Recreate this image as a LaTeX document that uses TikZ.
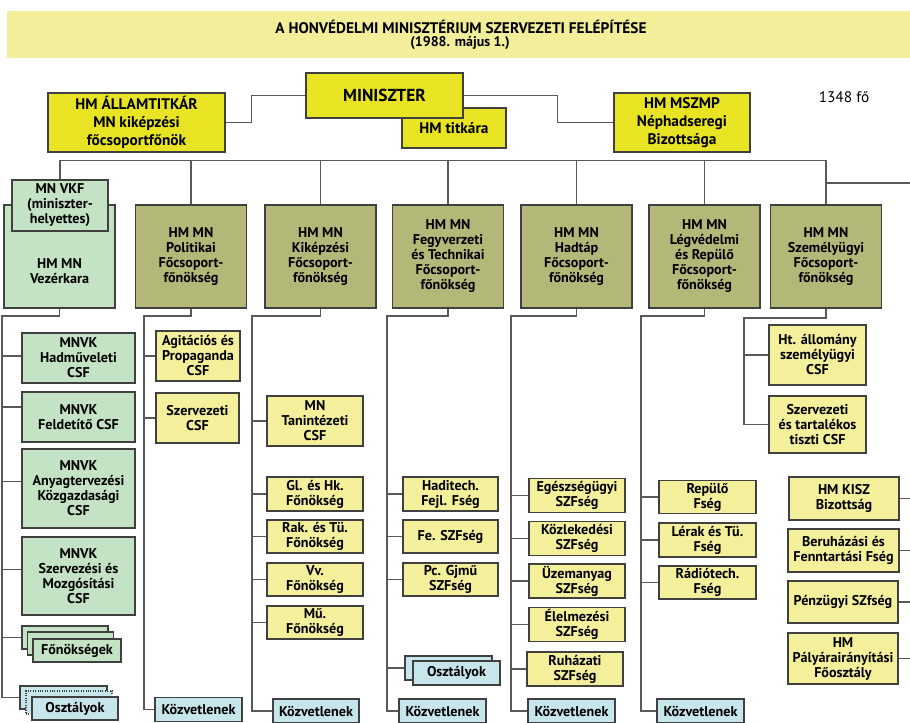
\documentclass[tikz,border=0pt]{standalone}
\usepackage{fontspec}
\setmainfont{PT Sans}
\usetikzlibrary{positioning, calc}
\definecolor{hmband}{RGB}{242,238,154}
\definecolor{hmtop}{RGB}{232,228,36}
\definecolor{hmolive}{RGB}{179,184,120}
\definecolor{hmgreen}{RGB}{196,226,196}
\definecolor{hmpale}{RGB}{243,239,155}
\definecolor{hmblue}{RGB}{198,230,236}

\begin{document}
\begin{tikzpicture}[x=0.75pt, y=-0.75pt,
    bw/.style={minimum width=#1*0.75pt},
    bh/.style={minimum height=#1*0.75pt},
    box/.style={draw=black!75, line width=0.8pt, align=center, inner xsep=1pt, inner ysep=1pt, font=\bfseries\fontsize{10.6}{11.25}\selectfont},
    topbox/.style={box, fill=hmtop, font=\bfseries\fontsize{11.5}{13.5}\selectfont},
    chief/.style={box, fill=hmolive, bw=111, bh=103},
    vkbox/.style={box, fill=hmgreen},
    csf/.style={box, fill=hmpale},
    bluebox/.style={box, fill=hmblue},
    conn/.style={draw=black!65, line width=0.8pt}]
    \useasboundingbox (0,0) rectangle (910,722);

    % title
    \fill[hmband] (7,11) rectangle (910,58);
    \node[font=\bfseries\fontsize{11.5}{12}\selectfont] (title) at (461,27) {A HONVÉDELMI MINISZTÉRIUM SZERVEZETI FELÉPÍTÉSE};
    \node[font=\bfseries\fontsize{10.5}{12}\selectfont] (date) at (460,43) {(1988. május 1.)};

    % top level
    \node[topbox, bw=104, bh=40] (titkara) at (454,128) {HM titkára};
    \node[topbox, bw=157, bh=45, font=\bfseries\fontsize{13}{15}\selectfont] (minister) at (384.5,95.5) {MINISZTER};
    \node[topbox, bw=177, bh=59] (state) at (136.5,122.5) {HM ÁLLAMTITKÁR\\MN kiképzési\\főcsoportfőnök};
    \node[topbox, bw=136, bh=59] (mszmp) at (682,122.5) {HM MSZMP\\Néphadseregi\\Bizottsága};
    \node[font=\fontsize{11.5}{13}\selectfont] (staff) at (844,97) {1348 fő};

    \draw[conn] (state.east) -- ++(26,0) |- (minister.west);
    \draw[conn] (minister.east) -- ++(94,0) |- (mszmp.west);

    % main directorates
    \node[vkbox, bw=111, bh=103, label={[font=\bfseries\fontsize{10.6}{11.25}\selectfont, align=center, yshift=-11.25pt]center:HM MN\\Vezérkara}] (vezer) at (59.5,256.5) {};
    \node[vkbox, bw=96, bh=51] (vkf) at (60,205.5) {MN VKF\\(miniszter-\\helyettes)};
    \node[chief] (polit) at (191,256.5) {HM MN\\Politikai\\Főcsoport-\\főnökség};
    \node[chief] (kikep) at (320.5,256.5) {HM MN\\Kiképzési\\Főcsoport-\\főnökség};
    \node[chief] (fegyv) at (448,256.5) {HM MN\\Fegyverzeti\\és Technikai\\Főcsoport-\\főnökség};
    \node[chief] (hadtap) at (576.5,256.5) {HM MN\\Hadtáp\\Főcsoport-\\főnökség};
    \node[chief] (legv) at (704.5,256.5) {HM MN\\Légvédelmi\\és Repülő\\Főcsoport-\\főnökség};
    \node[chief] (szemely) at (826,256.5) {HM MN\\Személyügyi\\Főcsoport-\\főnökség};

    \coordinate (east1) at (910,183);
    \draw[conn] (vkf.north) -- ++(0,-19) -| (szemely.north);
    \foreach \n in {polit,kikep,fegyv,hadtap,legv}
        \draw[conn] (\n.north) -- ++(0,-44);
    \draw[conn] (szemely.north |- east1) -- (east1);

    % Vezerkar
    \node[vkbox, bw=113, bh=50] (hadm) at (78.5,358) {MNVK\\Hadműveleti\\CSF};
    \node[vkbox, bw=113, bh=50] (feld) at (78.5,417) {MNVK\\Feldetítő CSF};
    \node[vkbox, bw=113, bh=79] (anyag) at (78.5,488.5) {MNVK\\Anyagtervezési\\Közgazdasági\\CSF};
    \node[vkbox, bw=113, bh=78] (szerv) at (78.5,576) {MNVK\\Szervezési és\\Mozgósítási\\CSF};
    \node[vkbox, bw=86, bh=23] (vfon1) at (65,637.5) {};
    \node[vkbox, bw=86, bh=23] (vfon2) at (70.5,643.5) {};
    \node[vkbox, bw=88, bh=23] (vfon3) at (77,650.5) {Főnökségek};
    \node[bluebox, bw=87, bh=23] (vosz1) at (63.5,697.5) {};
    \node[bluebox, bw=86, bh=23, densely dotted] (vosz2) at (69,702.5) {};
    \node[bluebox, bw=86, bh=23] (vosz3) at (75,708.5) {Osztályok};

    \coordinate (vspine) at (2,316);
    \draw[conn] (vezer.south) |- (vspine) |- (vosz1.west);
    \foreach \n/\s in {hadm/1.5pt, feld/7.5pt, anyag/5pt, szerv/5pt, vfon1/0pt}
        \draw[conn] ([yshift=\s]\n.west) -- ([yshift=\s]\n.west -| vspine);

    % Politikai
    \node[csf, bw=84, bh=50] (pagit) at (198,356) {Agitációs és\\Propaganda\\CSF};
    \node[csf, bw=83, bh=50] (pszerv) at (197.5,418) {Szervezeti\\CSF};
    \node[bluebox, bw=87, bh=24] (pkoz) at (198.5,709.5) {Közvetlenek};

    \coordinate (pspine) at (144,316);
    \draw[conn] (polit.south) |- (pspine) |- (pkoz.west);
    \foreach \n in {pagit,pszerv}
        \draw[conn] (\n.west) -- (\n.west -| pspine);

    % Kikepzesi
    \node[csf, bw=96, bh=50] (ktan) at (315,421) {MN\\Tanintézeti\\CSF};
    \node[csf, bw=96, bh=34] (kgl) at (315,494) {Gl. és Hk.\\Főnökség};
    \node[csf, bw=96, bh=33] (krak) at (315,536.5) {Rak. és Tü.\\Főnökség};
    \node[csf, bw=96, bh=33] (kvv) at (315,579.5) {Vv.\\Főnökség};
    \node[csf, bw=96, bh=33] (kmu) at (315,622.5) {Mű.\\Főnökség};
    \node[bluebox, bw=86, bh=24] (kkoz) at (316,711) {Közvetlenek};

    \coordinate (kspine) at (252,316);
    \draw[conn] (kikep.south) |- (kspine) |- (kkoz.west);
    \foreach \n in {ktan,kgl,krak,kvv,kmu}
        \draw[conn] (\n.west) -- (\n.west -| kspine);

    % Fegyverzeti
    \node[csf, bw=95, bh=34] (fhadi) at (450.5,494) {Haditech.\\Fejl. Fség};
    \node[csf, bw=95, bh=33] (ffe) at (450.5,536.5) {Fe. SZFség};
    \node[csf, bw=95, bh=33] (fpc) at (450.5,579.5) {Pc. Gjmű\\SZFség};
    \node[bluebox, bw=87, bh=24] (fosz1) at (448.5,668) {};
    \node[bluebox, bw=87, bh=24] (fosz2) at (456.5,673) {Osztályok};
    \node[bluebox, bw=87, bh=24] (fkoz) at (442.5,711) {Közvetlenek};

    \coordinate (fspine) at (387,316);
    \draw[conn] (fegyv.south) |- (fspine) |- (fkoz.west);
    \foreach \n in {fhadi,ffe,fpc,fosz1}
        \draw[conn] (\n.west) -- (\n.west -| fspine);

    % Hadtap
    \node[csf, bw=96, bh=34] (hegesz) at (577,495.5) {Egészségügyi\\SZFség};
    \node[csf, bw=96, bh=34] (hkozl) at (577,538.5) {Közlekedési\\SZFség};
    \node[csf, bw=96, bh=34] (huzem) at (577,581) {Üzemanyag\\SZFség};
    \node[csf, bw=96, bh=34] (helel) at (577,624.5) {Élelmezési\\SZFség};
    \node[csf, bw=96, bh=34] (hruha) at (575,669) {Ruházati\\SZFség};
    \node[bluebox, bw=87, bh=24] (hkoz) at (571.5,711) {Közvetlenek};

    \coordinate (hspine) at (511,316);
    \draw[conn] (hadtap.south) |- (hspine) |- (hkoz.west);
    \foreach \n in {hegesz,hkozl,huzem,helel,hruha}
        \draw[conn] (\n.west) -- (\n.west -| hspine);

    % Legvedelmi
    \node[csf, bw=97, bh=33] (lrep) at (707.5,497) {Repülő\\Fség};
    \node[csf, bw=97, bh=34] (lrak) at (707.5,540) {Lérak és Tü.\\Fség};
    \node[csf, bw=97, bh=33] (lradio) at (707.5,582.5) {Rádiótech.\\Fség};
    \node[bluebox, bw=87, bh=24] (lkoz) at (700.5,711) {Közvetlenek};

    \coordinate (lspine) at (641,316);
    \draw[conn] (legv.south) |- (lspine) |- (lkoz.west);
    \foreach \n in {lrep,lrak,lradio}
        \draw[conn] (\n.west) -- (\n.west -| lspine);

    % Szemelyugyi
    \node[csf, bw=97, bh=60] (sht) at (817.5,355) {Ht. állomány\\személyügyi\\CSF};
    \node[csf, bw=97, bh=57] (sszerv) at (817.5,424.5) {Szervezeti\\és tartalékos\\tiszti CSF};

    \coordinate (sspine) at (744,318);
    \draw[conn] (szemely.south) |- (sspine) |- (sszerv.west);
    \draw[conn] (sht.west) -- (sht.west -| sspine);

    % right hand column
    \node[csf, bw=110, bh=43] (kisz) at (844,498.5) {HM KISZ\\Bizottság};
    \node[csf, bw=111, bh=43] (beruh) at (843.5,550.5) {Beruházási és\\Fenntartási Fség};
    \node[csf, bw=110, bh=42] (penz) at (843,602) {Pénzügyi SZfség};
    \node[csf, bw=110, bh=51] (palya) at (843,658.5) {HM\\Pályárairányítási\\Főosztály};
    \foreach \n in {kisz,beruh,penz,palya}
        \draw[conn] (\n.east) -- (\n.east -| east1);
\end{tikzpicture}
\end{document}
